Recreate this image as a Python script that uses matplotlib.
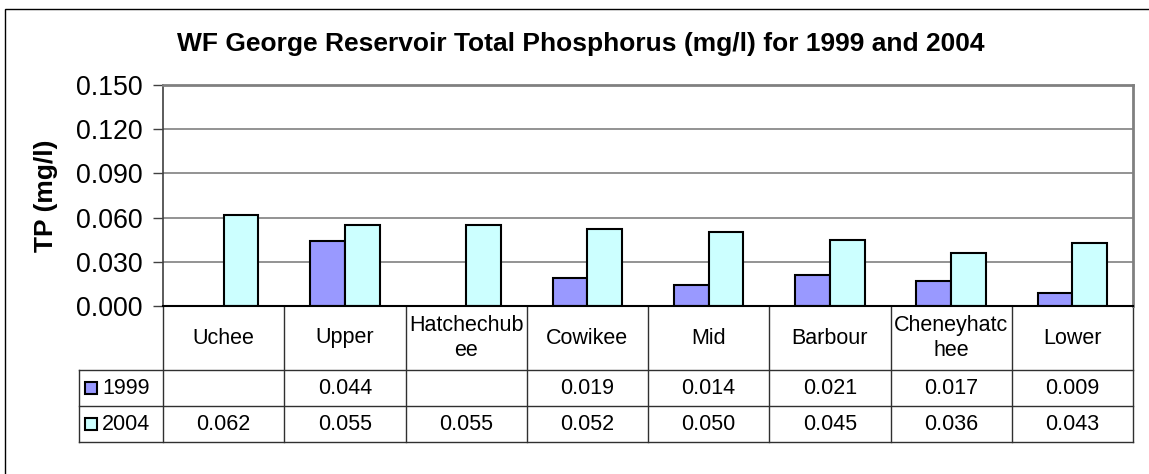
import numpy as np
import matplotlib
matplotlib.use("Agg")
import matplotlib.pyplot as plt
from matplotlib import transforms
from matplotlib.patches import Rectangle
from matplotlib.lines import Line2D

plt.rcParams['font.family'] = ['Liberation Sans', 'DejaVu Sans']

categories = ["Uchee", "Upper", "Hatchechubee", "Cowikee", "Mid", "Barbour", "Cheneyhatchee", "Lower"]
cat_labels = ["Uchee", "Upper", "Hatchechub\nee", "Cowikee", "Mid", "Barbour", "Cheneyhatc\nhee", "Lower"]
series_names = ["1999", "2004"]
tp_1999 = [None, 0.044, None, 0.019, 0.014, 0.021, 0.017, 0.009]
tp_2004 = [0.062, 0.055, 0.055, 0.052, 0.050, 0.045, 0.036, 0.043]
yticks = [0.0, 0.03, 0.06, 0.09, 0.12, 0.15]
colors = ["#9999FF", "#CCFFFF"]

W, H = 1149, 474
fig = plt.figure(figsize=(W / 100, H / 100), dpi=100)

# outer chart border
fig.patches.append(Rectangle((5 / W, -0.1), 1.2, 1 - 9 / H + 0.1, transform=fig.transFigure,
                             fill=False, edgecolor="black", linewidth=1.0))

L, R, T, B = 163, 1133, 85, 306
ax = fig.add_axes([L / W, 1 - B / H, (R - L) / W, (B - T) / H])

x = np.arange(len(categories))
w = 1 / 3.5
for i, (vals, off) in enumerate(zip([tp_1999, tp_2004], [-w / 2, w / 2])):
    xs = [xi + off for xi, v in zip(x, vals) if v is not None]
    hs = [v for v in vals if v is not None]
    ax.bar(xs, hs, width=w, color=colors[i], edgecolor="black", linewidth=1.5, zorder=3)

ax.set_xlim(-0.5, len(categories) - 0.5)
ax.set_ylim(0, 0.15)
ax.set_yticks(yticks)
ax.set_yticklabels([f"{t:.3f}" for t in yticks], fontsize=19.3)
ax.set_xticks([])
ax.tick_params(axis="y", direction="out", length=7, width=1, pad=8, color="#404040")
ax.grid(axis="y", color="#808080", linewidth=1.2, zorder=0)
for s in ["top", "right"]:
    ax.spines[s].set_color("#808080")
    ax.spines[s].set_linewidth(2)
ax.spines["left"].set_color("#404040")
ax.spines["left"].set_linewidth(1.2)
ax.spines["bottom"].set_color("black")
ax.spines["bottom"].set_linewidth(1.5)
ax.spines["bottom"].set_zorder(4)

fig.text(46 / W, 1 - 196 / H, "TP (mg/l)", fontsize=19, fontweight="bold",
         rotation=90, ha="center", va="center")

fig.text(581 / W, 1 - 51 / H, "WF George Reservoir Total Phosphorus (mg/l) for 1999 and 2004",
         fontsize=19, fontweight="bold", ha="center", va="baseline")

# data table
tr = transforms.blended_transform_factory(ax.transData, ax.transAxes)
ph = B - T
pw_per = (R - L) / len(categories)
row_y = [0, -64 / ph, -100 / ph, -136 / ph]
x_leg = -0.5 - (163 - 79) / pw_per
lc = "#303030"
lw = 1.0
for k in range(len(categories) + 1):
    ax.add_line(Line2D([k - 0.5, k - 0.5], [0, row_y[3]], transform=tr, color=lc, lw=lw, clip_on=False))
for ry in row_y[1:]:
    ax.add_line(Line2D([x_leg, len(categories) - 0.5], [ry, ry], transform=tr, color=lc, lw=lw, clip_on=False))
ax.add_line(Line2D([x_leg, x_leg], [row_y[1], row_y[3]], transform=tr, color=lc, lw=lw, clip_on=False))

fs_tab = 15.5
for xi, lab in zip(x, cat_labels):
    ax.text(xi, (row_y[0] + row_y[1]) / 2, lab, transform=tr, ha="center", va="center",
            fontsize=fs_tab, linespacing=1.2, clip_on=False)

for r, vals in enumerate([tp_1999, tp_2004]):
    yc = (row_y[r + 1] + row_y[r + 2]) / 2
    for xi, v in zip(x, vals):
        if v is not None:
            ax.text(xi, yc, f"{v:.3f}", transform=tr, ha="center", va="center", fontsize=fs_tab, clip_on=False)
    # legend key
    ax.plot([x_leg + 12 / pw_per], [yc], marker="s", markersize=9, markerfacecolor=colors[r],
            markeredgecolor="black", markeredgewidth=1.5, transform=tr, clip_on=False)
    ax.text(x_leg + 23 / pw_per, yc, series_names[r], transform=tr, ha="left", va="center",
            fontsize=fs_tab, clip_on=False)

fig.savefig("out.png", dpi=100)
